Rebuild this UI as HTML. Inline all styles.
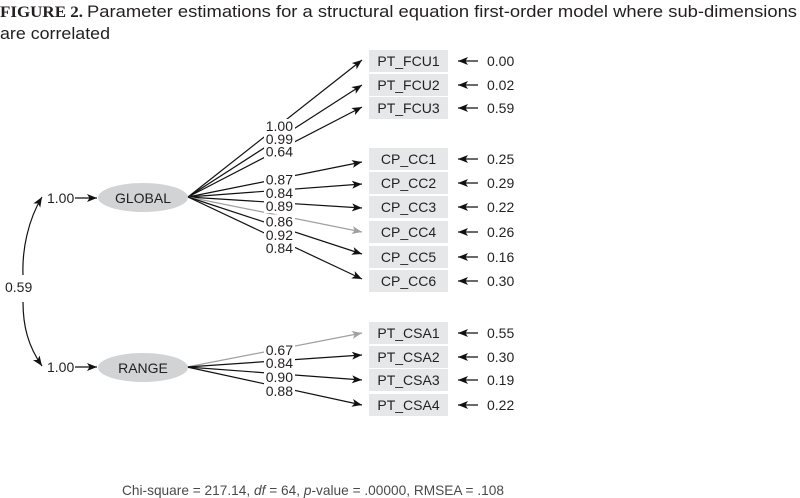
<!DOCTYPE html>
<html>
<head>
<meta charset="utf-8">
<style>
  html, body { margin:0; padding:0; background:#fff; }
  svg { display:block; }
  text { font-family: "Liberation Sans", "DejaVu Sans", sans-serif; fill:#231f20; }
</style>
</head>
<body>
<svg width="800" height="498" viewBox="0 0 800 498" xmlns="http://www.w3.org/2000/svg">
  <defs>
    <marker id="ah" markerUnits="userSpaceOnUse" markerWidth="11" markerHeight="9" refX="10" refY="4" orient="auto">
      <path d="M0,0 L10,4 L0,8 L2.5,4 Z" fill="#111"/>
    </marker>
    <marker id="ahg" markerUnits="userSpaceOnUse" markerWidth="11" markerHeight="9" refX="10" refY="4" orient="auto">
      <path d="M0,0 L10,4 L0,8 L2.5,4 Z" fill="#a0a0a0"/>
    </marker>
  </defs>

  <!-- Title -->
  <text x="0" y="17" font-family="Liberation Serif, serif" font-weight="bold" font-size="16" textLength="83" lengthAdjust="spacingAndGlyphs" style="font-family:'Liberation Serif',serif">FIGURE 2.</text>
  <text x="87" y="17" font-size="17" textLength="710" lengthAdjust="spacingAndGlyphs">Parameter estimations for a structural equation first-order model where sub-dimensions</text>
  <text x="0" y="39" font-size="17" textLength="110" lengthAdjust="spacingAndGlyphs">are correlated</text>

  <!-- Loading lines GLOBAL -->
  <g stroke="#111" stroke-width="1.2" fill="none">
    <line x1="188" y1="197" x2="362" y2="60" marker-end="url(#ah)"/>
    <line x1="188" y1="197" x2="362" y2="85" marker-end="url(#ah)"/>
    <line x1="188" y1="197" x2="362" y2="107" marker-end="url(#ah)"/>
    <line x1="188" y1="197" x2="362" y2="162" marker-end="url(#ah)"/>
    <line x1="188" y1="197" x2="362" y2="184" marker-end="url(#ah)"/>
    <line x1="188" y1="197" x2="362" y2="208" marker-end="url(#ah)"/>
    <line x1="188" y1="197" x2="362" y2="232" stroke="#a0a0a0" marker-end="url(#ahg)"/>
    <line x1="188" y1="197" x2="362" y2="254" marker-end="url(#ah)"/>
    <line x1="188" y1="197" x2="362" y2="279" marker-end="url(#ah)"/>
  </g>
  <!-- Loading lines RANGE -->
  <g stroke="#111" stroke-width="1.2" fill="none">
    <line x1="187" y1="367" x2="362" y2="333" stroke="#a0a0a0" marker-end="url(#ahg)"/>
    <line x1="187" y1="367" x2="362" y2="355" marker-end="url(#ah)"/>
    <line x1="187" y1="367" x2="362" y2="380" marker-end="url(#ah)"/>
    <line x1="187" y1="367" x2="362" y2="405" marker-end="url(#ah)"/>
  </g>

  <!-- Label backgrounds -->
  <g fill="#fff">
    <rect x="264" y="119" width="31" height="14"/>
    <rect x="264" y="132" width="31" height="14"/>
    <rect x="264" y="144.5" width="31" height="14"/>
    <rect x="264" y="172.5" width="31" height="14"/>
    <rect x="264" y="186" width="31" height="14"/>
    <rect x="264" y="199" width="31" height="14"/>
    <rect x="264" y="214.5" width="31" height="14"/>
    <rect x="264" y="228" width="31" height="14"/>
    <rect x="264" y="241" width="31" height="14"/>
    <rect x="264" y="343" width="31" height="14"/>
    <rect x="264" y="356" width="31" height="14"/>
    <rect x="264" y="370" width="31" height="14"/>
    <rect x="264" y="384" width="31" height="14"/>
  </g>
  <!-- Loading labels -->
  <g font-size="14" text-anchor="end">
    <text x="293" y="131">1.00</text>
    <text x="293" y="144">0.99</text>
    <text x="293" y="156.5">0.64</text>
    <text x="293" y="184.5">0.87</text>
    <text x="293" y="198">0.84</text>
    <text x="293" y="211">0.89</text>
    <text x="293" y="226.5">0.86</text>
    <text x="293" y="240">0.92</text>
    <text x="293" y="253">0.84</text>
    <text x="293" y="355">0.67</text>
    <text x="293" y="368">0.84</text>
    <text x="293" y="382">0.90</text>
    <text x="293" y="396">0.88</text>
  </g>

  <!-- Boxes -->
  <g fill="#e6e7e8">
    <rect x="369" y="50" width="79" height="22"/>
    <rect x="369" y="74" width="79" height="22"/>
    <rect x="369" y="97" width="79" height="22"/>
    <rect x="369" y="148" width="79" height="22"/>
    <rect x="369" y="172" width="79" height="22"/>
    <rect x="369" y="196" width="79" height="22"/>
    <rect x="369" y="221" width="79" height="22"/>
    <rect x="369" y="246" width="79" height="22"/>
    <rect x="369" y="270" width="79" height="22"/>
    <rect x="369" y="322" width="79" height="22"/>
    <rect x="369" y="346" width="79" height="22"/>
    <rect x="369" y="369" width="79" height="22"/>
    <rect x="369" y="394" width="79" height="22"/>
  </g>
  <g font-size="14" text-anchor="middle">
    <text x="408.5" y="66">PT_FCU1</text>
    <text x="408.5" y="90">PT_FCU2</text>
    <text x="408.5" y="113">PT_FCU3</text>
    <text x="408.5" y="164">CP_CC1</text>
    <text x="408.5" y="188">CP_CC2</text>
    <text x="408.5" y="212">CP_CC3</text>
    <text x="408.5" y="237">CP_CC4</text>
    <text x="408.5" y="262">CP_CC5</text>
    <text x="408.5" y="286">CP_CC6</text>
    <text x="408.5" y="338">PT_CSA1</text>
    <text x="408.5" y="362">PT_CSA2</text>
    <text x="408.5" y="385">PT_CSA3</text>
    <text x="408.5" y="410">PT_CSA4</text>
  </g>

  <!-- Error arrows -->
  <g stroke="#111" stroke-width="1.2">
    <line x1="478" y1="61" x2="458" y2="61" marker-end="url(#ah)"/>
    <line x1="478" y1="85" x2="458" y2="85" marker-end="url(#ah)"/>
    <line x1="478" y1="108" x2="458" y2="108" marker-end="url(#ah)"/>
    <line x1="478" y1="159" x2="458" y2="159" marker-end="url(#ah)"/>
    <line x1="478" y1="183" x2="458" y2="183" marker-end="url(#ah)"/>
    <line x1="478" y1="207" x2="458" y2="207" marker-end="url(#ah)"/>
    <line x1="478" y1="232" x2="458" y2="232" marker-end="url(#ah)"/>
    <line x1="478" y1="257" x2="458" y2="257" marker-end="url(#ah)"/>
    <line x1="478" y1="281" x2="458" y2="281" marker-end="url(#ah)"/>
    <line x1="478" y1="333" x2="458" y2="333" marker-end="url(#ah)"/>
    <line x1="478" y1="357" x2="458" y2="357" marker-end="url(#ah)"/>
    <line x1="478" y1="380" x2="458" y2="380" marker-end="url(#ah)"/>
    <line x1="478" y1="405" x2="458" y2="405" marker-end="url(#ah)"/>
  </g>
  <g font-size="14">
    <text x="487" y="66">0.00</text>
    <text x="487" y="90">0.02</text>
    <text x="487" y="113">0.59</text>
    <text x="487" y="164">0.25</text>
    <text x="487" y="188">0.29</text>
    <text x="487" y="212">0.22</text>
    <text x="487" y="237">0.26</text>
    <text x="487" y="262">0.16</text>
    <text x="487" y="286">0.30</text>
    <text x="487" y="338">0.55</text>
    <text x="487" y="362">0.30</text>
    <text x="487" y="385">0.19</text>
    <text x="487" y="410">0.22</text>
  </g>

  <!-- Latent ellipses -->
  <ellipse cx="143" cy="197.5" rx="45" ry="14.5" fill="#d1d3d4"/>
  <ellipse cx="143" cy="367.5" rx="45" ry="14.5" fill="#d1d3d4"/>
  <text x="143" y="203" font-size="14" text-anchor="middle">GLOBAL</text>
  <text x="143" y="373" font-size="14" text-anchor="middle">RANGE</text>

  <!-- Variance arrows -->
  <text x="47" y="203" font-size="14">1.00</text>
  <text x="47" y="372" font-size="14">1.00</text>
  <g stroke="#111" stroke-width="1.2">
    <line x1="75" y1="198" x2="97" y2="198" marker-end="url(#ah)"/>
    <line x1="75" y1="367" x2="97" y2="367" marker-end="url(#ah)"/>
  </g>

  <!-- Covariance curve -->
  <g stroke="#111" stroke-width="1.2" fill="none">
    <path d="M23,275 C22,250 28,220 42,197" marker-end="url(#ah)"/>
    <path d="M23,302 C23,326 28,346 42,366" marker-end="url(#ah)"/>
  </g>
  <text x="5" y="292" font-size="14">0.59</text>

  <!-- Fit statistics -->
  <text x="122" y="495" font-size="14" textLength="382" lengthAdjust="spacingAndGlyphs" style="fill:#4a4a4a">Chi-square = 217.14, <tspan font-style="italic">df</tspan> = 64, <tspan font-style="italic">p</tspan>-value = .00000, RMSEA = .108</text>
</svg>
</body>
</html>
